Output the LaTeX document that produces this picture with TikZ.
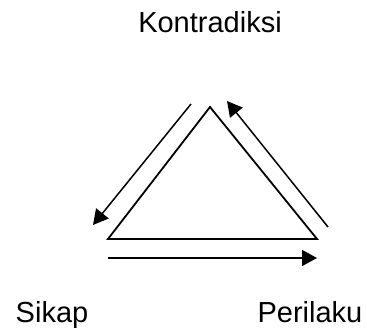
\documentclass[tikz,border=0pt]{standalone}
\usepackage{fontspec}
\setmainfont{Liberation Sans}
\usetikzlibrary{arrows.meta}
\begin{document}
\begin{tikzpicture}[x=1pt,y=1pt,
  label/.style={inner sep=0pt, anchor=base, font=\fontsize{29}{32}\selectfont},
  side/.style={line width=1.8pt, line join=miter},
  flow/.style={line width=1.5pt, -{Triangle[length=15pt,width=16pt]}}]
  \useasboundingbox (0,0) rectangle (367,331);
  % labels
  \node[label] (kon) at (210,298) {Kontradiksi};
  \node[label] (sik) at (52,8) {Sikap};
  \node[label] (per) at (310,8) {Perilaku};
  % triangle corners
  \coordinate (top) at (210,224);
  \coordinate (bl) at (108,92);
  \coordinate (br) at (317,92);
  \draw[side] (top) -- (bl) -- (br) -- cycle;
  % arrow ends
  \coordinate (la) at (191,227);
  \coordinate (lb) at (93,106);
  \coordinate (ra) at (328,104);
  \coordinate (rb) at (227,230);
  \coordinate (ba) at (108,73);
  \coordinate (bb) at (317,73);
  \draw[flow] (la) -- (lb);
  \draw[flow] (ra) -- (rb);
  \draw[flow] (ba) -- (bb);
\end{tikzpicture}
\end{document}
